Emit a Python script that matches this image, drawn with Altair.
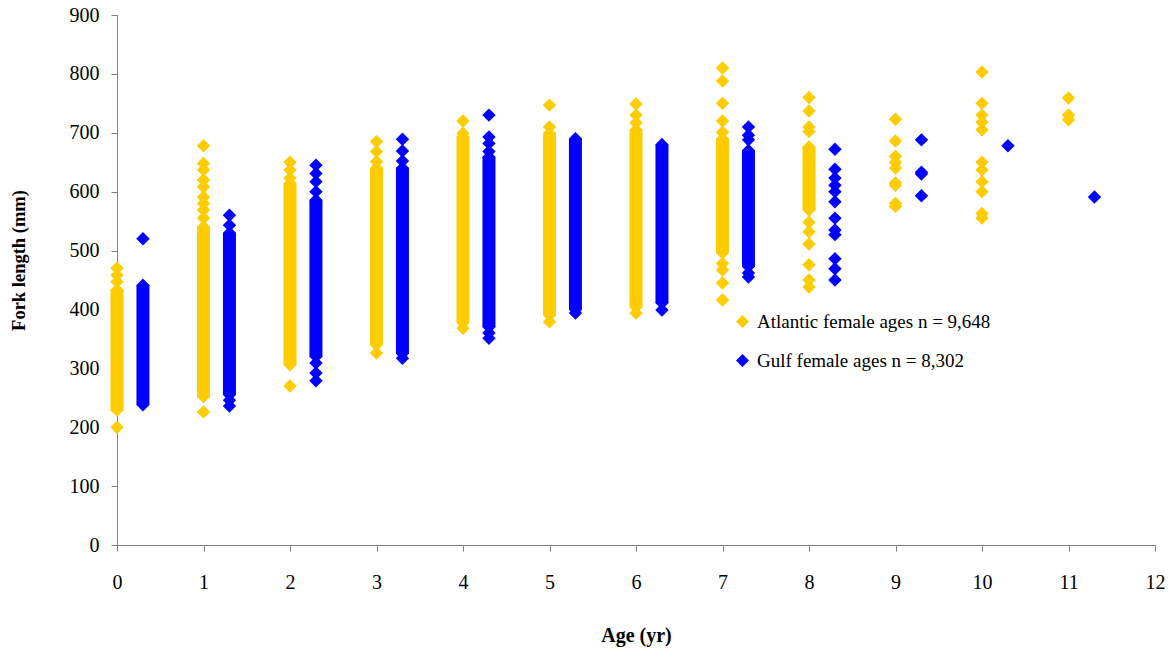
import altair as alt
import pandas as pd

GOLD = "#FFCC00"
BLUE = "#0000FF"
ATL = "Atlantic female ages n = 9,648"
GULF = "Gulf female ages n = 8,302"

# Solid (densely overplotted) part of each column: lower and upper end (mm)
atl_band_age = [0, 1, 2, 3, 4, 5, 6, 7, 8]
atl_band_lo = [229, 252, 306, 340, 378, 390, 404, 496, 569]
atl_band_hi = [433, 540, 614, 640, 693, 699, 705, 690, 676]

gulf_band_age = [0.3, 1.3, 2.3, 3.3, 4.3, 5.3, 6.3, 7.3]
gulf_band_lo = [238, 255, 320, 325, 370, 400, 411, 473]
gulf_band_hi = [441, 530, 586, 640, 659, 690, 680, 670]

# Individually visible fish (fork length, mm) by age
atl_age0 = [200, 229, 433, 447, 458, 470]
atl_age1 = [226, 252, 540, 555, 569, 580, 591, 608, 620, 637, 648, 678]
atl_age2 = [270, 306, 614, 623, 637, 650]
atl_age3 = [326, 340, 640, 651, 668, 685]
atl_age4 = [368, 378, 693, 699, 720]
atl_age5 = [379, 390, 699, 710, 747]
atl_age6 = [394, 404, 705, 717, 730, 749]
atl_age7 = [416, 445, 467, 478, 496, 690, 701, 720, 750, 788, 810]
atl_age8 = [438, 450, 476, 511, 532, 548, 569, 676, 702, 710, 737, 760]
atl_age9 = [575, 580, 611, 615, 640, 650, 660, 686, 723]
atl_age10 = [555, 563, 600, 617, 637, 650, 705, 718, 730, 750, 803]
atl_age11 = [722, 730, 759]

gulf_age0 = [238, 441, 520]
gulf_age1 = [236, 246, 255, 530, 543, 560]
gulf_age2 = [279, 292, 309, 320, 586, 600, 617, 631, 645]
gulf_age3 = [317, 325, 640, 652, 669, 689]
gulf_age4 = [351, 360, 370, 659, 668, 682, 693, 730]
gulf_age5 = [394, 400, 690]
gulf_age6 = [399, 411, 680]
gulf_age7 = [455, 462, 473, 670, 688, 696, 710]
gulf_age8 = [450, 469, 486, 527, 535, 555, 583, 600, 611, 623, 638, 672]
gulf_age9 = [593, 630, 633, 688]
gulf_age10 = [678]
gulf_age11 = [591]

atl_cols = [atl_age0, atl_age1, atl_age2, atl_age3, atl_age4, atl_age5,
            atl_age6, atl_age7, atl_age8, atl_age9, atl_age10, atl_age11]
gulf_cols = [gulf_age0, gulf_age1, gulf_age2, gulf_age3, gulf_age4, gulf_age5,
             gulf_age6, gulf_age7, gulf_age8, gulf_age9, gulf_age10, gulf_age11]
gulf_offset = 0.3

rows = []
for age, col in enumerate(atl_cols):
    for v in col:
        rows.append({"age": age, "fl": v, "series": ATL})
for age, col in enumerate(gulf_cols):
    for v in col:
        rows.append({"age": age + gulf_offset, "fl": v, "series": GULF})
pts = pd.DataFrame(rows)

band_atl = pd.DataFrame({"age": atl_band_age, "lo": atl_band_lo, "hi": atl_band_hi})
band_gulf = pd.DataFrame({"age": gulf_band_age, "lo": gulf_band_lo, "hi": gulf_band_hi})

FONT = "Liberation Serif"

xscale = alt.Scale(domain=[0, 12], nice=False, zero=False, padding=0)
yscale = alt.Scale(domain=[0, 900], nice=False, padding=0)

xaxis = alt.Axis(values=list(range(13)), title="Age (yr)", grid=False,
                 tickSize=6, labelPadding=21, titleX=519, titleY=90, labelFlush=False,
                 titleBaseline="middle", titleFontSize=20, format="d")
yaxis = alt.Axis(values=list(range(0, 901, 100)), title="Fork length (mm)",
                 grid=False, tickSize=6, labelPadding=12, titleX=-99, titleY=245,
                 labelFlush=False,
                 titleAngle=-90, titleBaseline="middle", titleAlign="center")

bars_a = alt.Chart(band_atl).mark_bar(size=13, color=GOLD).encode(
    x=alt.X("age:Q", scale=xscale, axis=xaxis),
    y=alt.Y("lo:Q", scale=yscale, axis=yaxis),
    y2="hi:Q",
)
bars_g = alt.Chart(band_gulf).mark_bar(size=13, color=BLUE).encode(
    x=alt.X("age:Q", scale=xscale),
    y=alt.Y("lo:Q", scale=yscale),
    y2="hi:Q",
)
points = alt.Chart(pts).mark_point(shape="diamond", filled=True, size=180, opacity=1).encode(
    x=alt.X("age:Q", scale=xscale),
    y=alt.Y("fl:Q", scale=yscale),
    color=alt.Color("series:N", scale=alt.Scale(domain=[ATL, GULF], range=[GOLD, BLUE]),
                    legend=alt.Legend(title=None, orient="none", legendX=616, legendY=297,
                                      symbolType="diamond", symbolSize=170, symbolOpacity=1,
                                      labelFontSize=19, labelFont=FONT, labelColor="black",
                                      labelLimit=500, labelOffset=5, rowPadding=19,
                                      padding=0)),
)

chart = alt.layer(bars_a, bars_g, points).properties(
    width=1038, height=530,
    autosize=alt.AutoSizeParams(type="none"),
    padding={"left": 117, "top": 15, "right": 17, "bottom": 105},
    background="white",
).configure_view(stroke=None).configure_axis(
    labelFont=FONT, labelFontSize=20, labelColor="black",
    titleFont=FONT, titleFontSize=18.5, titleFontWeight="bold", titleColor="black",
    domainColor="#808080", tickColor="#808080", domainWidth=1, tickWidth=1,
)

chart.save("out.html", embed_options={"renderer": "svg", "actions": False})
